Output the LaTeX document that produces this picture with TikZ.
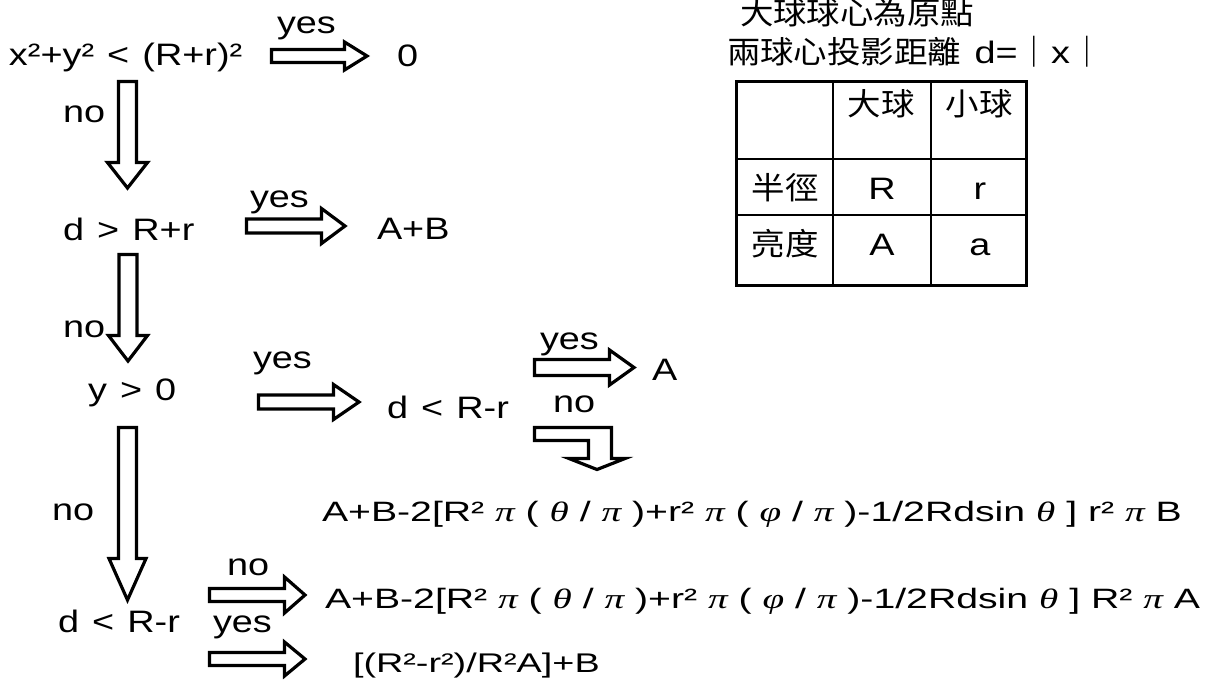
\documentclass[tikz,border=0pt]{standalone}
\usepackage{fontspec}
\setmainfont{Liberation Sans}[FakeStretch=1.22,WordSpace=1.25]
\newfontfamily\ff{Liberation Sans}[FakeStretch=1.4]
\newfontfamily\grk{Liberation Serif}[FakeStretch=1.4]
\newfontfamily\cjk{Noto Sans CJK TC}[FakeStretch=1.08]
\usetikzlibrary{calc}
\newcommand\gk[1]{{\grk\itshape #1}}
\newcommand\cj[1]{{\fontsize{31}{36}\cjk #1}}
% horizontal block arrow: start, tip, head length, body half, head half
\newcommand\rblk[5]{\draw[blk] let \p1=(#1), \p2=(#2) in (\x1,\y1+#4) -- (\x2-#3,\y1+#4) -- (\x2-#3,\y1+#5) -- (\x2,\y1) -- (\x2-#3,\y1-#5) -- (\x2-#3,\y1-#4) -- (\x1,\y1-#4) -- cycle;}
% downward block arrow
\newcommand\dblk[5]{\draw[blk] let \p1=(#1), \p2=(#2) in (\x1-#4,\y1) -- (\x1+#4,\y1) -- (\x1+#4,\y2+#3) -- (\x1+#5,\y2+#3) -- (\x1,\y2) -- (\x1-#5,\y2+#3) -- (\x1-#4,\y2+#3) -- cycle;}
\tikzset{
 lbl/.style={inner sep=0pt, outer sep=0pt, anchor=base west, font=\fontsize{31}{36}\selectfont},
 fml/.style={inner sep=0pt, outer sep=0pt, anchor=base west, font=\fontsize{28}{34}\ff},
 tcjk/.style={inner sep=0pt, outer sep=0pt, font=\fontsize{31}{36}\cjk},
 blk/.style={draw=black, line width=3.2pt, fill=white, line join=miter, miter limit=10},
 frame/.style={line width=3.2pt},
 grid/.style={line width=2pt},
}
\begin{document}
\begin{tikzpicture}[x=1pt,y=-1pt]
\useasboundingbox (0,0) rectangle (1206,686);
% condition / result nodes
\node[lbl] (c1) at (9,65) {x²+y² < (R+r)²};
\node[lbl] (o0) at (397,66) {0};
\node[lbl] (c2) at (63,240) {d > R+r};
\node[lbl] (oAB) at (377,239) {A+B};
\node[lbl] (c3) at (88,400) {y > 0};
\node[lbl] (c4) at (387,418) {d < R-r};
\node[lbl] (oA) at (652,380) {A};
\node[fml] (f1) at (322,521) {A+B-2[R² \gk{π} ( \gk{θ} / \gk{π} )+r² \gk{π} ( \gk{φ} / \gk{π} )-1/2Rdsin \gk{θ} ] r² \gk{π} B};
\node[lbl] (c5) at (58,632) {d < R-r};
\node[fml] (f2) at (325,608) {A+B-2[R² \gk{π} ( \gk{θ} / \gk{π} )+r² \gk{π} ( \gk{φ} / \gk{π} )-1/2Rdsin \gk{θ} ] R² \gk{π} A};
\node[fml, font=\fontsize{27}{34}\ff] (f3) at (353,672) {[(R²-r²)/R²A]+B};
% yes / no labels
\node[lbl] (y1) at (277,33) {yes};
\node[lbl] (n1) at (63,122) {no};
\node[lbl] (y2) at (250,207) {yes};
\node[lbl] (n2) at (63,337) {no};
\node[lbl] (y3) at (253,368) {yes};
\node[lbl] (y4) at (540,349) {yes};
\node[lbl] (n3) at (553,412) {no};
\node[lbl] (n4) at (52,520) {no};
\node[lbl] (n5) at (227,575) {no};
\node[lbl] (y6) at (213,632) {yes};
% arrow end points
\coordinate (a1s) at (271.5,56);  \coordinate (a1e) at (367,56);
\coordinate (a2s) at (246.5,226); \coordinate (a2e) at (345,226);
\coordinate (a3s) at (258.5,402); \coordinate (a3e) at (359,402);
\coordinate (a4s) at (534.5,367.5); \coordinate (a4e) at (634,367.5);
\coordinate (a5s) at (209.5,595); \coordinate (a5e) at (305,595);
\coordinate (a6s) at (209.5,659); \coordinate (a6e) at (305,659);
\coordinate (d1s) at (127.5,81.5); \coordinate (d1e) at (127.5,188);
\coordinate (d2s) at (128,254.5);  \coordinate (d2e) at (128,361);
\coordinate (d3s) at (127.5,427.5); \coordinate (d3e) at (127.5,600);
\rblk{a1s}{a1e}{22.5pt}{6.5pt}{14pt}
\rblk{a2s}{a2e}{23.5pt}{7pt}{17.5pt}
\rblk{a3s}{a3e}{25.5pt}{7pt}{17.5pt}
\rblk{a4s}{a4e}{24.5pt}{8pt}{17.5pt}
\rblk{a5s}{a5e}{20.5pt}{6.5pt}{18pt}
\rblk{a6s}{a6e}{20.5pt}{6.5pt}{17pt}
\dblk{d1s}{d1e}{25.5pt}{9pt}{20pt}
\dblk{d2s}{d2e}{25.5pt}{9pt}{19.5pt}
\dblk{d3s}{d3e}{41.5pt}{9pt}{18.5pt}
% bent arrow (no)
\draw[blk] (534.5,427.5) -- (611.5,427.5) -- (611.5,458.5) -- (625,458.5) -- (597,469.5) -- (569,458.5) -- (588.5,458.5) -- (588.5,440.5) -- (534.5,440.5) -- cycle;
% title
\node[tcjk, anchor=base west] (t1) at (740,24) {大球球心為原點};
\node[lbl] (t2) at (727,63) {\cj{兩球心投影距離} d=\cj{｜}x\cj{｜}};
% table
\draw[frame] (736.6,81.6) rectangle (1026.4,285.4);
\draw[grid] (833,81.6) -- (833,285.4) (931,81.6) -- (931,285.4)
  (736.6,159) -- (1026.4,159) (736.6,215) -- (1026.4,215);
\node[tcjk] (hb) at (881,103.5) {大球};
\node[tcjk] (hs) at (979,103.5) {小球};
\node[tcjk] (hr) at (785,188) {半徑};
\node[tcjk] (hl) at (785,244) {亮度};
\node[lbl, anchor=base] (vR) at (882,199.5) {R};
\node[lbl, anchor=base] (vr) at (980,199.5) {r};
\node[lbl, anchor=base] (vA) at (882,255) {A};
\node[lbl, anchor=base] (va) at (980,255) {a};
\end{tikzpicture}
\end{document}
